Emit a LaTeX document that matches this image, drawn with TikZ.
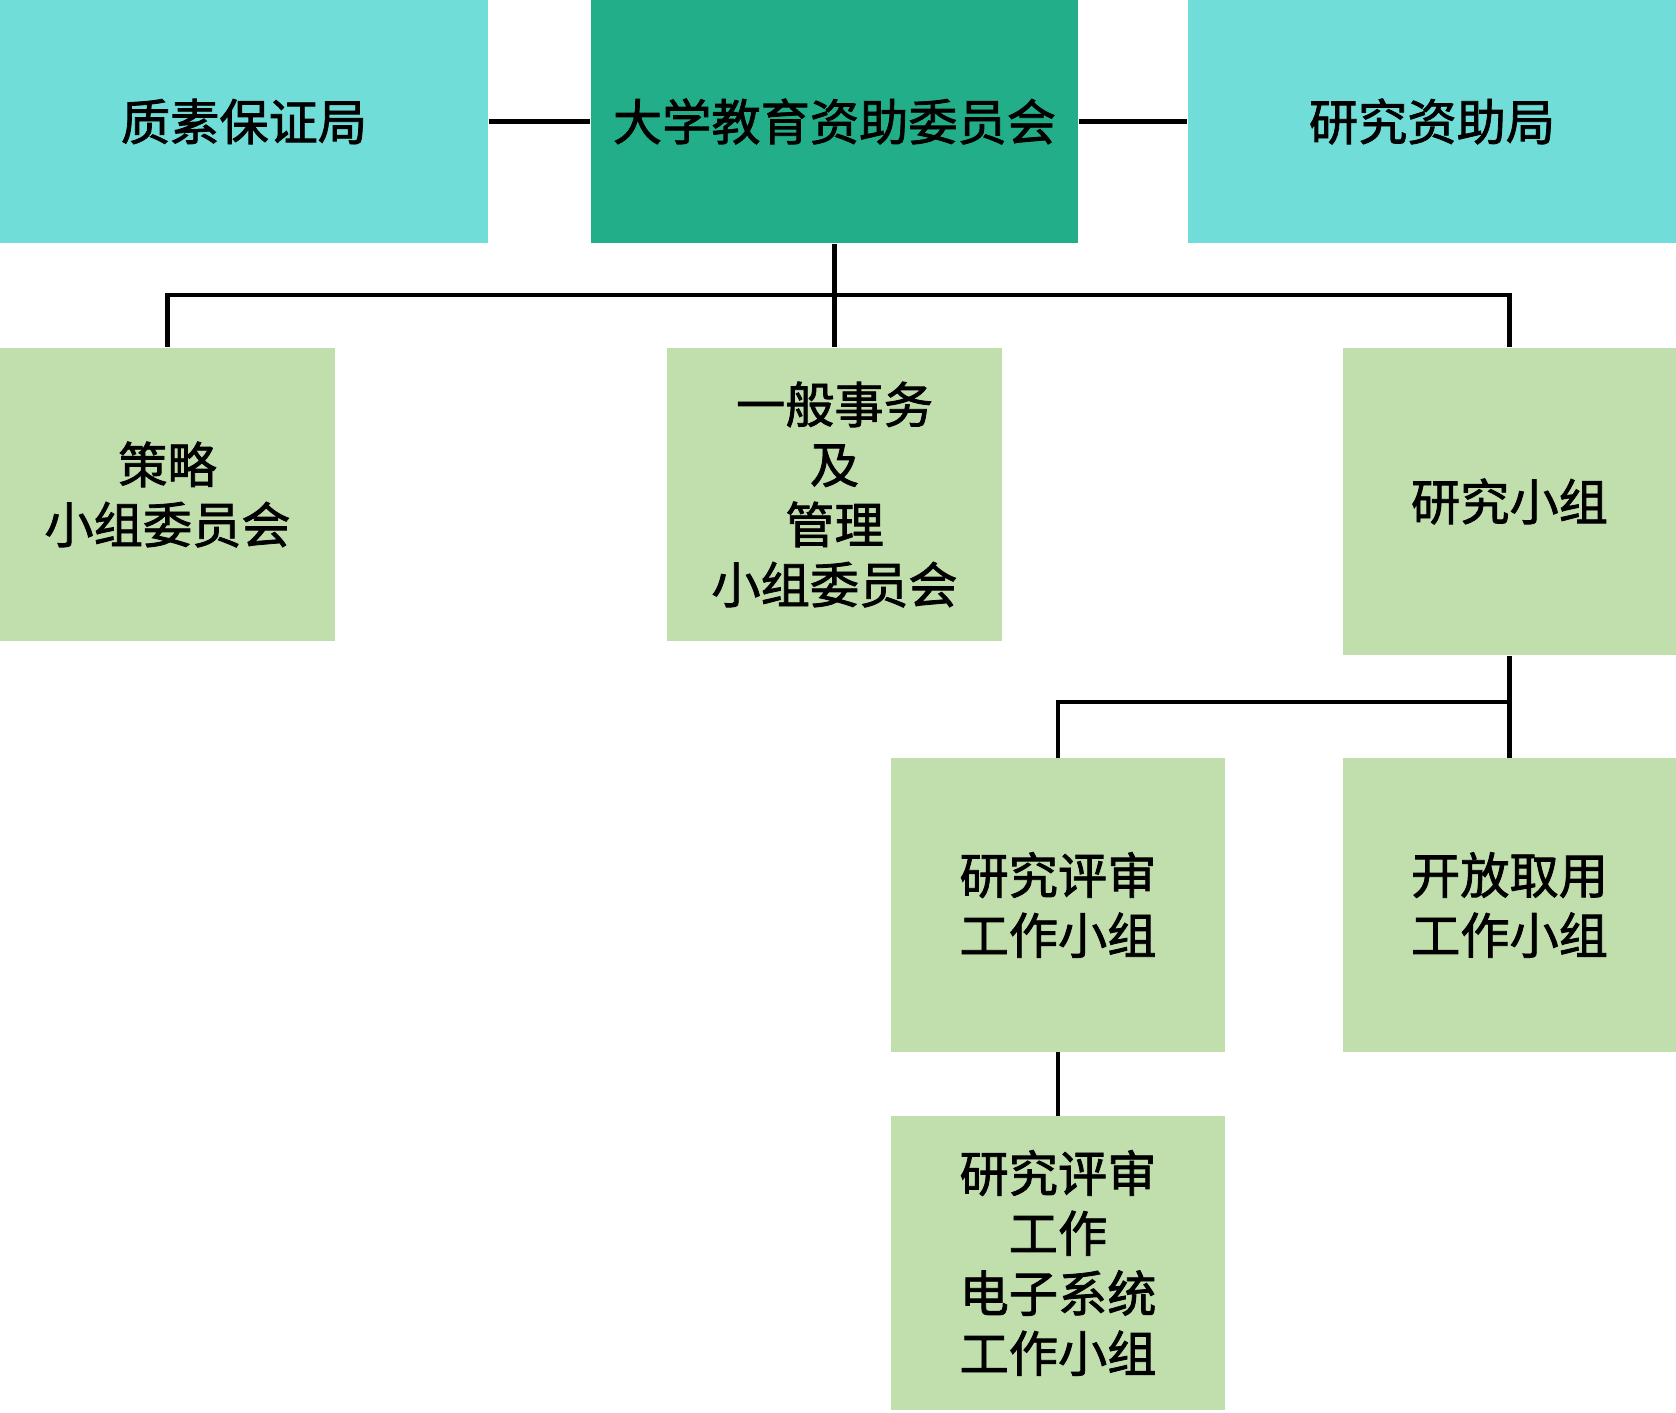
\documentclass[tikz,border=0pt]{standalone}
\usepackage{fontspec}
\newfontfamily\cjk{Noto Sans CJK SC}[FakeBold=1.6]
\usetikzlibrary{positioning,calc}
\definecolor{Bureau}{HTML}{70DDD9}
\definecolor{Council}{HTML}{23AE8A}
\definecolor{Panel}{HTML}{C1DEAD}
\definecolor{Ink}{HTML}{000000}
\tikzset{
  base/.style={draw=none,align=center,text=Ink,inner sep=0pt,font=\cjk\fontsize{14pt}{17.07pt}\selectfont},
  bureaubox/.style={base,fill=Bureau,minimum width=4.88cm,minimum height=2.43cm},
  councilbox/.style={base,fill=Council,minimum width=4.87cm,minimum height=2.43cm},
  panelbox/.style={base,fill=Panel,minimum width=3.34cm,minimum height=2.93cm},
  link/.style={draw=Ink,line width=0.045cm}
}
\begin{document}
\begin{tikzpicture}[x=0.01cm,y=-0.01cm]
  \useasboundingbox (0,0) rectangle (1676,1413);
  % top row
  \node[bureaubox] (qa) at (244,121.5) {质素保证局};
  \node[councilbox] (ugc) at (834.5,121.5) {大学教育资助委员会};
  \node[bureaubox] (rgc) at (1432,121.5) {研究资助局};
  % committees and panels
  \node[panelbox,minimum width=3.35cm] (strat) at (167.5,494.5) {策略\\小组委员会};
  \node[panelbox,minimum width=3.35cm] (admin) at (834.5,494.5) {一般事务\\及\\管理\\小组委员会};
  \node[panelbox,minimum width=3.33cm,minimum height=3.07cm] (rsg) at (1509.5,501.5) {研究小组};
  \node[panelbox] (rev) at (1058,905) {研究评审\\工作小组};
  \node[panelbox,minimum width=3.33cm] (oa) at (1509.5,905) {开放取用\\工作小组};
  \node[panelbox] (esys) at (1058,1263) {研究评审\\工作\\电子系统\\工作小组};
  % bus points
  \coordinate (bus1) at (834.5,295);
  \coordinate (bus2) at (1509.5,702);
  % connectors
  \draw[link] (qa.east) -- (ugc.west);
  \draw[link] (ugc.east) -- (rgc.west);
  \draw[link] (ugc.south) -- (bus1);
  \draw[link] (bus1) -| (strat.north);
  \draw[link] (bus1) -- (admin.north);
  \draw[link] (bus1) -| (rsg.north);
  \draw[link] (rsg.south) -- (bus2);
  \draw[link] (bus2) -| (rev.north);
  \draw[link] (bus2) -- (oa.north);
  \draw[link] (rev.south) -- (esys.north);
\end{tikzpicture}
\end{document}
